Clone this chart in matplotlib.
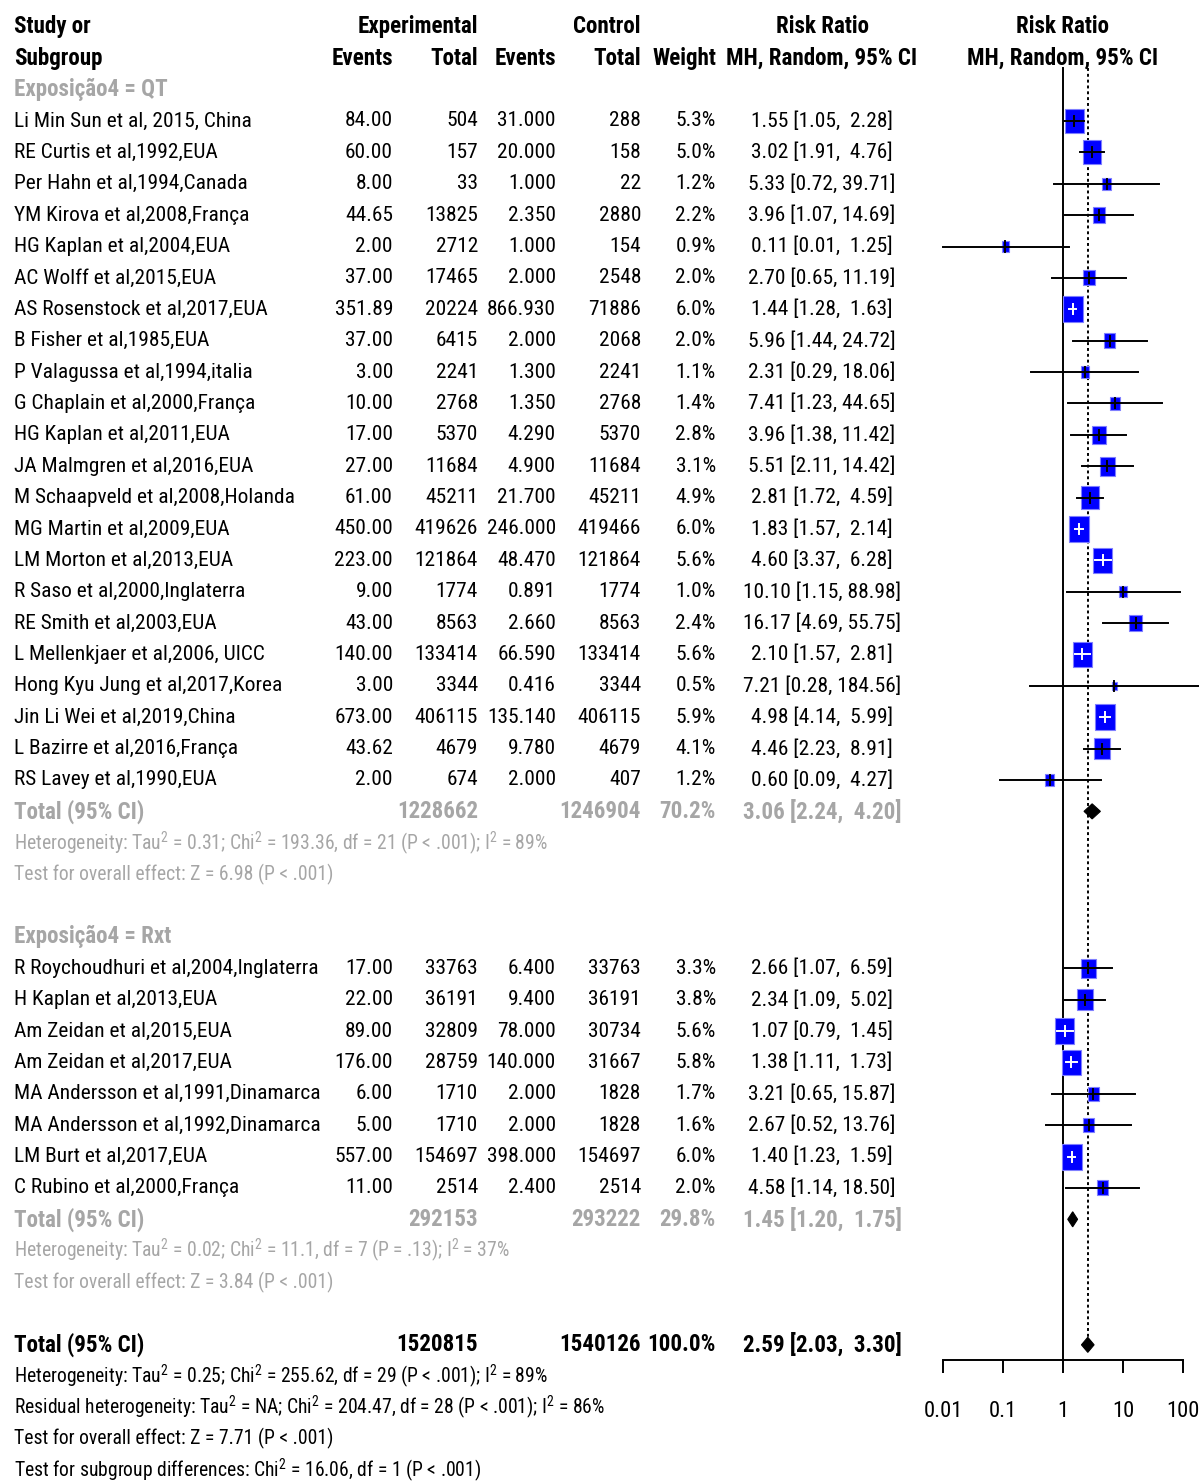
import numpy as np
import matplotlib
matplotlib.use("Agg")
import matplotlib.pyplot as plt
from matplotlib import font_manager
from matplotlib.patches import Rectangle, Polygon

# study data, subgroup QT
qt_study = ["Li Min Sun et al, 2015, China", "RE Curtis et al,1992,EUA", "Per Hahn et al,1994,Canada",
            "YM Kirova et al,2008,França", "HG Kaplan et al,2004,EUA", "AC Wolff et al,2015,EUA",
            "AS Rosenstock et al,2017,EUA", "B Fisher et al,1985,EUA", "P Valagussa et al,1994,italia",
            "G Chaplain et al,2000,França", "HG Kaplan et al,2011,EUA", "JA Malmgren et al,2016,EUA",
            "M Schaapveld et al,2008,Holanda", "MG Martin et al,2009,EUA", "LM Morton et al,2013,EUA",
            "R Saso et al,2000,Inglaterra", "RE Smith et al,2003,EUA", "L Mellenkjaer et al,2006, UICC",
            "Hong Kyu Jung et al,2017,Korea", "Jin Li Wei et al,2019,China", "L Bazirre et al,2016,França",
            "RS Lavey et al,1990,EUA"]
qt_e_ev = [84.00, 60.00, 8.00, 44.65, 2.00, 37.00, 351.89, 37.00, 3.00, 10.00, 17.00, 27.00,
           61.00, 450.00, 223.00, 9.00, 43.00, 140.00, 3.00, 673.00, 43.62, 2.00]
qt_e_tot = [504, 157, 33, 13825, 2712, 17465, 20224, 6415, 2241, 2768, 5370, 11684,
            45211, 419626, 121864, 1774, 8563, 133414, 3344, 406115, 4679, 674]
qt_c_ev = [31.000, 20.000, 1.000, 2.350, 1.000, 2.000, 866.930, 2.000, 1.300, 1.350, 4.290, 4.900,
           21.700, 246.000, 48.470, 0.891, 2.660, 66.590, 0.416, 135.140, 9.780, 2.000]
qt_c_tot = [288, 158, 22, 2880, 154, 2548, 71886, 2068, 2241, 2768, 5370, 11684,
            45211, 419466, 121864, 1774, 8563, 133414, 3344, 406115, 4679, 407]
qt_w = [5.3, 5.0, 1.2, 2.2, 0.9, 2.0, 6.0, 2.0, 1.1, 1.4, 2.8, 3.1, 4.9, 6.0, 5.6, 1.0, 2.4, 5.6, 0.5, 5.9, 4.1, 1.2]
qt_rr = [1.55, 3.02, 5.33, 3.96, 0.11, 2.70, 1.44, 5.96, 2.31, 7.41, 3.96, 5.51, 2.81, 1.83, 4.60,
         10.10, 16.17, 2.10, 7.21, 4.98, 4.46, 0.60]
qt_lo = [1.05, 1.91, 0.72, 1.07, 0.01, 0.65, 1.28, 1.44, 0.29, 1.23, 1.38, 2.11, 1.72, 1.57, 3.37,
         1.15, 4.69, 1.57, 0.28, 4.14, 2.23, 0.09]
qt_hi = [2.28, 4.76, 39.71, 14.69, 1.25, 11.19, 1.63, 24.72, 18.06, 44.65, 11.42, 14.42, 4.59, 2.14, 6.28,
         88.98, 55.75, 2.81, 184.56, 5.99, 8.91, 4.27]

# subgroup Rxt
rx_study = ["R Roychoudhuri et al,2004,Inglaterra", "H Kaplan et al,2013,EUA", "Am Zeidan et al,2015,EUA",
            "Am Zeidan et al,2017,EUA", "MA Andersson et al,1991,Dinamarca", "MA Andersson et al,1992,Dinamarca",
            "LM Burt et al,2017,EUA", "C Rubino et al,2000,França"]
rx_e_ev = [17.00, 22.00, 89.00, 176.00, 6.00, 5.00, 557.00, 11.00]
rx_e_tot = [33763, 36191, 32809, 28759, 1710, 1710, 154697, 2514]
rx_c_ev = [6.400, 9.400, 78.000, 140.000, 2.000, 2.000, 398.000, 2.400]
rx_c_tot = [33763, 36191, 30734, 31667, 1828, 1828, 154697, 2514]
rx_w = [3.3, 3.8, 5.6, 5.8, 1.7, 1.6, 6.0, 2.0]
rx_rr = [2.66, 2.34, 1.07, 1.38, 3.21, 2.67, 1.40, 4.58]
rx_lo = [1.07, 1.09, 0.79, 1.11, 0.65, 0.52, 1.23, 1.14]
rx_hi = [6.59, 5.02, 1.45, 1.73, 15.87, 13.76, 1.59, 18.50]

# pooled results: [exp total, ctrl total, weight, rr, lo, hi]
qt_total = [1228662, 1246904, 70.2, 3.06, 2.24, 4.20]
rx_total = [292153, 293222, 29.8, 1.45, 1.20, 1.75]
all_total = [1520815, 1540126, 100.0, 2.59, 2.03, 3.30]

qt_notes = [r"Heterogeneity: Tau$^2$ = 0.31; Chi$^2$ = 193.36, df = 21 (P < .001); I$^2$ = 89%",
            "Test for overall effect: Z = 6.98 (P < .001)"]
rx_notes = [r"Heterogeneity: Tau$^2$ = 0.02; Chi$^2$ = 11.1, df = 7 (P = .13); I$^2$ = 37%",
            "Test for overall effect: Z = 3.84 (P < .001)"]
all_notes = [r"Heterogeneity: Tau$^2$ = 0.25; Chi$^2$ = 255.62, df = 29 (P < .001); I$^2$ = 89%",
             r"Residual heterogeneity: Tau$^2$ = NA; Chi$^2$ = 204.47, df = 28 (P < .001); I$^2$ = 86%",
             "Test for overall effect: Z = 7.71 (P < .001)",
             r"Test for subgroup differences: Chi$^2$ = 16.06, df = 1 (P < .001)"]
xticks = [0.01, 0.1, 1, 10, 100]
xtick_labels = ["0.01", "0.1", "1", "10", "100"]

# pick a narrow font if one is installed
names = {f.name for f in font_manager.fontManager.ttflist}
stretch = "normal"
family = "Liberation Sans"
for cand in ["Liberation Sans Narrow", "Arial Narrow", "Roboto Condensed", "Open Sans Condensed"]:
    if cand in names:
        family = cand
        break
else:
    if any(f.name == "DejaVu Sans" and f.stretch == "condensed" for f in font_manager.fontManager.ttflist):
        family = "DejaVu Sans"
        stretch = "condensed"
plt.rcParams["font.family"] = [family, "DejaVu Sans"]
plt.rcParams["font.stretch"] = stretch
plt.rcParams["mathtext.fontset"] = "custom"
plt.rcParams["mathtext.rm"] = family
plt.rcParams["mathtext.it"] = family
plt.rcParams["mathtext.bf"] = family + ":bold"

GRAY = "#a6a6a6"
W, H = 1199, 1482
ROW0, ROWH = 121, 31.38
ylim = ((H - ROW0) / ROWH, -ROW0 / ROWH)

fig = plt.figure(figsize=(W / 100, H / 100), dpi=100)
ax_t = fig.add_axes([0, 0, 1, 1])
ax_t.set_xlim(0, W)
ax_t.set_ylim(*ylim)
ax_t.axis("off")

# size the text so that it is as wide as in the original
renderer = fig.canvas.get_renderer()


def fit_size(s, target, bold=False):
    p = ax_t.text(0, 0, s, fontsize=20, fontweight="bold" if bold else "normal")
    pw = p.get_window_extent(renderer).width
    p.remove()
    return 20 * target / pw


FS = fit_size(qt_study[0], 237)
FSB = fit_size("Experimental", 120, bold=True)
FSN = fit_size(qt_notes[1], 319)

ax = fig.add_axes([900 / W, 0, (W - 900) / W, 1])
ax.set_xscale("log")
ax.set_xlim(10 ** ((900 - 1063) / 60), 10 ** ((W - 1063) / 60))
ax.set_ylim(*ylim)
ax.patch.set_alpha(0)


def txt(x, row, s, ha="left", color="black", bold=False, size=None):
    if size is None:
        size = FSB if bold else FS
    ax_t.text(x, row, s, ha=ha, va="center", fontsize=size, color=color,
              fontweight="bold" if bold else "normal")


def ci_str(rr, lo, hi):
    return f"{rr:.2f} [{lo:.2f}, {hi:5.2f}]"


# header
txt(14, -3, "Study or", bold=True)
txt(14, -2, "Subgroup", bold=True)
txt(478, -3, "Experimental", ha="right", bold=True)
txt(641, -3, "Control", ha="right", bold=True)
txt(822, -3, "Risk Ratio", ha="center", bold=True)
txt(1063, -3, "Risk Ratio", ha="center", bold=True)
for x, s in [(393, "Events"), (478, "Total"), (556, "Events"), (641, "Total"), (716, "Weight")]:
    txt(x, -2, s, ha="right", bold=True)
txt(822, -2, "MH, Random, 95% CI", ha="center", bold=True)
txt(1063, -2, "MH, Random, 95% CI", ha="center", bold=True)

wmax = 6.0


def draw_group(start, label, study, e_ev, e_tot, c_ev, c_tot, w, rr, lo, hi, total, notes):
    txt(14, start - 1, label, color=GRAY, bold=True)
    for i in range(len(study)):
        r = start + i
        txt(14, r, study[i])
        txt(393, r, f"{e_ev[i]:.2f}", ha="right")
        txt(478, r, f"{e_tot[i]}", ha="right")
        txt(556, r, f"{c_ev[i]:.3f}", ha="right")
        txt(641, r, f"{c_tot[i]}", ha="right")
        txt(716, r, f"{w[i]:.1f}%", ha="right")
        txt(822, r, ci_str(rr[i], lo[i], hi[i]), ha="center")
        # square sized by weight
        s = np.sqrt(w[i] / wmax)
        hw = 0.5 * 20 / 60 * s
        hh = 0.5 * 0.83 * s
        lx = np.log10(rr[i])
        x0, x1 = 10 ** (lx - hw), 10 ** (lx + hw)
        ax.add_patch(Rectangle((x0, r - hh), x1 - x0, 2 * hh, facecolor="#0000ff",
                               edgecolor="#7f7fff", lw=0.8, zorder=2))
        col = "white" if (lo[i] >= x0 and hi[i] <= x1) else "black"
        ax.plot([lo[i], hi[i]], [r, r], color=col, lw=1.4, zorder=3, clip_on=False)
        ax.plot([rr[i], rr[i]], [r - 0.16, r + 0.16], color=col, lw=1.4, zorder=3)
    r = start + len(study)
    txt(14, r, "Total (95% CI)", color=GRAY, bold=True)
    txt(478, r, f"{total[0]}", ha="right", color=GRAY, bold=True)
    txt(641, r, f"{total[1]}", ha="right", color=GRAY, bold=True)
    txt(716, r, f"{total[2]:.1f}%", ha="right", color=GRAY, bold=True)
    txt(822, r, ci_str(*total[3:]), ha="center", color=GRAY, bold=True)
    ax.add_patch(Polygon([(total[4], r), (total[3], r - 0.24), (total[5], r), (total[3], r + 0.24)],
                         closed=True, facecolor="black", edgecolor="black", lw=0.8, zorder=3))
    for j, n in enumerate(notes):
        txt(14, r + 1 + j, n, color=GRAY, size=FSN)


draw_group(0, "Exposição4 = QT", qt_study, qt_e_ev, qt_e_tot, qt_c_ev, qt_c_tot,
           qt_w, qt_rr, qt_lo, qt_hi, qt_total, qt_notes)
draw_group(27, "Exposição4 = Rxt", rx_study, rx_e_ev, rx_e_tot, rx_c_ev, rx_c_tot,
           rx_w, rx_rr, rx_lo, rx_hi, rx_total, rx_notes)

# overall
r = 39
txt(14, r, "Total (95% CI)", bold=True)
txt(478, r, f"{all_total[0]}", ha="right", bold=True)
txt(641, r, f"{all_total[1]}", ha="right", bold=True)
txt(716, r, f"{all_total[2]:.1f}%", ha="right", bold=True)
txt(822, r, ci_str(*all_total[3:]), ha="center", bold=True)
ax.add_patch(Polygon([(all_total[4], r), (all_total[3], r - 0.24), (all_total[5], r), (all_total[3], r + 0.24)],
                     closed=True, facecolor="black", edgecolor="black", lw=0.8, zorder=3))
for j, n in enumerate(all_notes):
    txt(14, r + 1 + j, n, size=FSN)

# reference lines
axis_row = (1360 - ROW0) / ROWH
top_row = (68 - ROW0) / ROWH
ax.plot([1, 1], [top_row, axis_row], color="black", lw=1.4, zorder=1)
ax.plot([all_total[3], all_total[3]], [top_row, r - 0.24], color="black", lw=1.4,
        ls=(0, (1.5, 1.5)), zorder=1)

# x axis
for side in ["top", "right", "left"]:
    ax.spines[side].set_visible(False)
ax.spines["bottom"].set_position(("data", axis_row))
ax.spines["bottom"].set_bounds(0.01, 100)
ax.spines["bottom"].set_linewidth(1.4)
ax.set_xticks(xticks)
ax.set_xticklabels(xtick_labels)
ax.xaxis.set_minor_locator(matplotlib.ticker.NullLocator())
ax.tick_params(axis="x", direction="out", length=9.4, width=1.4, pad=20, labelsize=FS * 1.05)
ax.set_yticks([])

fig.savefig("out.png", dpi=100)
